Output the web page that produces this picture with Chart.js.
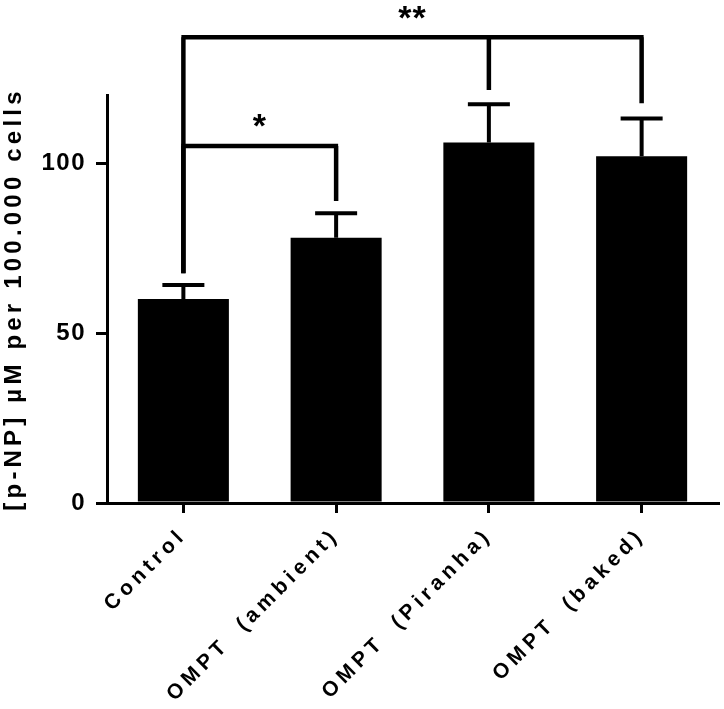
<!DOCTYPE html>
<html>
<head>
<meta charset="utf-8">
<script src="https://cdn.jsdelivr.net/npm/chart.js@4"></script>
<style>
  html, body { margin: 0; padding: 0; background: #fff; }
  #wrap { width: 724px; height: 709px; }
</style>
</head>
<body>
<div id="wrap"><canvas id="chart"></canvas></div>
<script>
// values
const categories = ['Control', 'OMPT (ambient)', 'OMPT (Piranha)', 'OMPT (baked)'];
const means = [60, 78, 106, 102];
const errUp = [4.1, 7.2, 11.3, 11.1];
const yTicks = [0, 50, 100];
const yTitle = '[p-NP] µM per 100.000 cells';

// significance brackets (heights in data units)
const sigLabels = ['*', '**'];
const sigFrom = [0, 0];
const sigTo = [[1], [2, 3]];
const sigLevel = [105, 137];
const sigEnds = [[67.6, 88.8], [67.6, 121.5, 117.6]];

const FONT = 'Liberation Sans, Arial, sans-serif';

// the figure uses letter spaced text, different per element
function spaced(fn, sp, ws) {
    return function (...args) {
        this.ctx.letterSpacing = sp;
        this.ctx.wordSpacing = ws || '0px';
        return fn.apply(this, args);
    };
}
const spacing = {
    id: 'spacing',
    beforeDraw(chart) {
        const x = chart.scales.x, y = chart.scales.y;
        if (!x._patched) {
            x.drawLabels = spaced(x.drawLabels, '4.6px', '9px');
            x._patched = true;
        }
        if (!y._patched) {
            y.drawLabels = spaced(y.drawLabels, '1.5px');
            y.drawTitle = spaced(y.drawTitle, '4.2px');
            y._patched = true;
        }
    }
};

// error bars + brackets
const extras = {
    id: 'extras',
    afterDatasetsDraw(chart) {
        const ctx = chart.ctx;
        const x = chart.scales.x, y = chart.scales.y;
        ctx.save();
        ctx.strokeStyle = '#000';
        ctx.fillStyle = '#000';
        ctx.lineWidth = 4;
        ctx.lineCap = 'butt';

        means.forEach((m, i) => {
            const cx = x.getPixelForValue(i);
            const top = y.getPixelForValue(m + errUp[i]);
            ctx.beginPath();
            ctx.moveTo(cx, y.getPixelForValue(m));
            ctx.lineTo(cx, top);
            ctx.moveTo(cx - 21, top);
            ctx.lineTo(cx + 21, top);
            ctx.stroke();
        });

        ctx.lineWidth = 4.5;
        sigLabels.forEach((lab, k) => {
            const x0 = x.getPixelForValue(sigFrom[k]);
            const yl = y.getPixelForValue(sigLevel[k]);
            const xs = [sigFrom[k]].concat(sigTo[k]);
            const xl = x.getPixelForValue(xs[xs.length - 1]);
            ctx.beginPath();
            ctx.moveTo(x0 - 2, yl);
            ctx.lineTo(xl + 2, yl);
            xs.forEach((c, j) => {
                const px = x.getPixelForValue(c);
                ctx.moveTo(px, yl);
                ctx.lineTo(px, y.getPixelForValue(sigEnds[k][j]));
            });
            ctx.stroke();
            ctx.font = 'bold 34px ' + FONT;
            ctx.letterSpacing = '1px';
            ctx.textAlign = 'center';
            ctx.textBaseline = 'middle';
            ctx.fillText(lab, (x0 + xl) / 2, yl - 18);
        });
        ctx.restore();
    }
};

new Chart(document.getElementById('chart'), {
    type: 'bar',
    data: {
        labels: categories,
        datasets: [{
            data: means,
            backgroundColor: '#000',
            borderWidth: 0,
            categoryPercentage: 1,
            barPercentage: 0.596
        }]
    },
    options: {
        responsive: true,
        maintainAspectRatio: false,
        animation: false,
        layout: { padding: { top: 95, right: 6, left: 0, bottom: 0 } },
        plugins: { legend: { display: false }, tooltip: { enabled: false } },
        scales: {
            x: {
                afterFit(s) { s.height = 206; },
                border: { display: true, color: '#000', width: 3 },
                grid: {
                    display: true, offset: false, drawOnChartArea: false,
                    drawTicks: true, tickLength: 10, lineWidth: 3, color: '#000'
                },
                ticks: {
                    color: '#000', maxRotation: 45, minRotation: 45, padding: 10,
                    font: { family: FONT, size: 21, weight: 'bold' }
                }
            },
            y: {
                min: 0,
                max: 120,
                afterFit(s) { s.width = 107; },
                afterBuildTicks(s) { s.ticks = yTicks.map(v => ({ value: v })); },
                border: { display: true, color: '#000', width: 3 },
                grid: {
                    display: true, drawOnChartArea: false,
                    drawTicks: true, tickLength: 11, lineWidth: 3, color: '#000'
                },
                ticks: {
                    color: '#000', padding: 10,
                    font: { family: FONT, size: 24, weight: 'bold' }
                },
                title: {
                    display: true, text: yTitle, color: '#000', padding: 0,
                    font: { family: FONT, size: 24, weight: 'bold' }
                }
            }
        }
    },
    plugins: [spacing, extras]
});
</script>
</body>
</html>
